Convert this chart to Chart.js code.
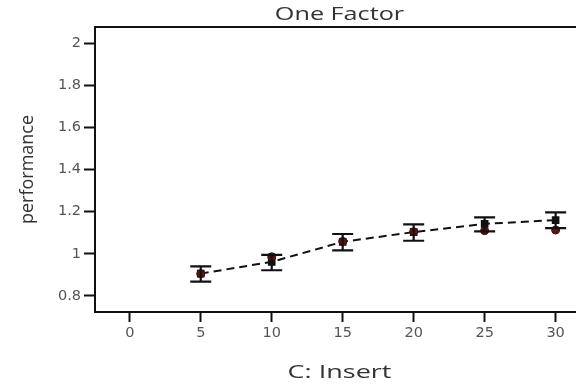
<!DOCTYPE html>
<html><head><meta charset="utf-8">
<script src="https://cdn.jsdelivr.net/npm/chart.js@4"></script>
<style>html,body{margin:0;padding:0;overflow:hidden;background:#fff;width:576px;height:385px}
#wrap{width:678px;height:385px;position:relative}</style>
</head><body><div id="wrap"><canvas id="c"></canvas></div>
<script>
const xValues = [5, 10, 15, 20, 25, 30];
const meanValues = [0.906, 0.962, 1.057, 1.103, 1.142, 1.160];
const observedValues = [0.906, 0.986, 1.059, 1.105, 1.110, 1.113];
const errUpper = [0.940, 0.995, 1.094, 1.140, 1.173, 1.197];
const errLower = [0.868, 0.922, 1.016, 1.062, 1.106, 1.122];
const xTicks = [0, 5, 10, 15, 20, 25, 30];
const yTicks = [0.8, 1, 1.2, 1.4, 1.6, 1.8, 2];
const chartTitle = 'One Factor';
const xTitle = 'C: Insert';
const yTitle = 'performance';

const FONT = "'Open Sans', 'Liberation Sans', sans-serif";
const TICKFONT = "'DejaVu Sans', 'Open Sans', sans-serif";

const boxPlugin = {
  id: 'box',
  afterDraw(chart) {
    const a = chart.chartArea, ctx = chart.ctx;
    ctx.save();
    ctx.strokeStyle = '#111'; ctx.lineWidth = 2;
    ctx.strokeRect(a.left, a.top, a.right - a.left, a.bottom - a.top);
    ctx.restore();
  }
};
const textPlugin = {
  id: 'texts',
  afterDraw(chart) {
    const a = chart.chartArea, ctx = chart.ctx;
    const cx = (a.left + a.right) / 2;
    ctx.save();
    ctx.fillStyle = '#333';
    ctx.textAlign = 'center';
    ctx.textBaseline = 'middle';
    ctx.font = '18px ' + FONT;
    ctx.save();
    ctx.translate(cx, a.top - 12);
    ctx.scale(1.4, 1);
    ctx.fillText(chartTitle, 0, 0);
    ctx.restore();
    ctx.save();
    ctx.translate(cx, chart.height - 12);
    ctx.scale(1.5, 1);
    ctx.fillText(xTitle, 0, 0);
    ctx.restore();
    ctx.save();
    ctx.translate(28, (a.top + a.bottom) / 2);
    ctx.rotate(-Math.PI / 2);
    ctx.fillText(yTitle, 0, 0);
    ctx.restore();
    ctx.restore();
  }
};
const errPlugin = {
  id: 'errbars',
  afterDatasetsDraw(chart) {
    const x = chart.scales.x, y = chart.scales.y, ctx = chart.ctx;
    ctx.save();
    ctx.strokeStyle = '#111'; ctx.lineWidth = 2.2;
    xValues.forEach((v, i) => {
      const px = x.getPixelForValue(v);
      const t = y.getPixelForValue(errUpper[i]);
      const b = y.getPixelForValue(errLower[i]);
      ctx.beginPath();
      ctx.moveTo(px, t); ctx.lineTo(px, b);
      ctx.moveTo(px - 10.5, t); ctx.lineTo(px + 10.5, t);
      ctx.moveTo(px - 10.5, b); ctx.lineTo(px + 10.5, b);
      ctx.stroke();
    });
    ctx.restore();
  }
};

new Chart(document.getElementById('c'), {
  type: 'scatter',
  data: {
    datasets: [
      {
        label: 'observed',
        data: xValues.map((v, i) => ({x: v, y: observedValues[i]})),
        showLine: false,
        pointStyle: 'circle',
        pointRadius: 4,
        backgroundColor: '#5a1414',
        borderColor: '#3a0c0c',
        borderWidth: 1
      },
      {
        label: 'mean',
        data: xValues.map((v, i) => ({x: v, y: meanValues[i]})),
        showLine: true,
        borderColor: '#111',
        borderWidth: 2,
        borderDash: [8, 5],
        pointStyle: 'rect',
        pointRadius: 4,
        backgroundColor: '#111',
        pointBorderColor: '#111',
        pointBackgroundColor: '#111'
      }
    ]
  },
  options: {
    responsive: true,
    maintainAspectRatio: false,
    animation: false,
    layout: {padding: {left: 0, right: 94, top: 27, bottom: 0}},
    plugins: {
      legend: {display: false},
      tooltip: {enabled: false},
      title: {display: false}
    },
    scales: {
      x: {
        type: 'linear', min: -2.45, max: 32,
        afterBuildTicks(s) { s.ticks = xTicks.map(v => ({value: v})); },
        afterFit(s) { s.height = 73; },
        grid: {drawOnChartArea: false, drawTicks: true, tickLength: 10, tickColor: '#111', tickWidth: 2},
        border: {display: false},
        ticks: {color: '#555', font: {family: TICKFONT, size: 14.5}, padding: 3},
        title: {display: false}
      },
      y: {
        type: 'linear', min: 0.724, max: 2.076,
        afterBuildTicks(s) { s.ticks = yTicks.map(v => ({value: v})); },
        afterFit(s) { s.width = 95; },
        grid: {drawOnChartArea: false, drawTicks: true, tickLength: 11, tickColor: '#111', tickWidth: 2},
        border: {display: false},
        ticks: {color: '#555', font: {family: TICKFONT, size: 14.5}, padding: 3,
          callback: v => String(v)},
        title: {display: false}
      }
    }
  },
  plugins: [boxPlugin, errPlugin, textPlugin]
});
</script></body></html>
